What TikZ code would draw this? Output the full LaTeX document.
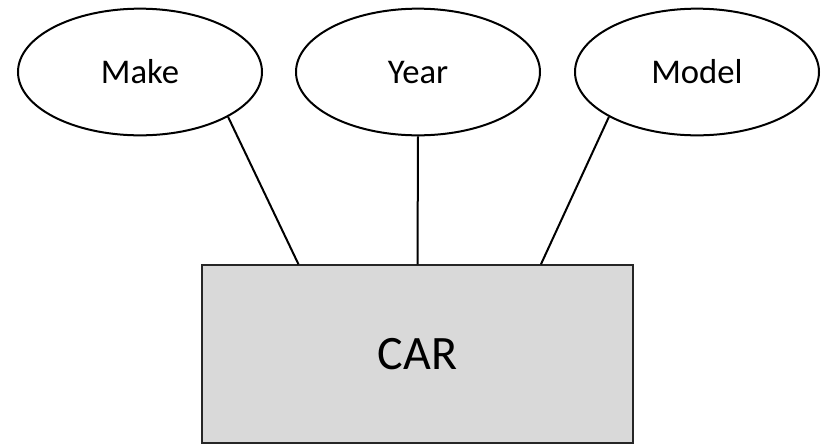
\documentclass[tikz,border=0pt]{standalone}
\usepackage{fontspec}
\setmainfont{Carlito}
\usetikzlibrary{shapes.geometric}

\begin{document}
\begin{tikzpicture}[x=0.75pt, y=-0.75pt,
    attr/.style={ellipse, draw, line width=1.5pt, minimum width=183pt, minimum height=95pt, inner sep=0pt, font=\fontsize{26}{30}\selectfont},
    entity/.style={rectangle, draw=black!85, line width=1.5pt, fill={rgb,255:red,217;green,217;blue,217}, minimum width=323pt, minimum height=133pt, inner sep=0pt, font=\fontsize{36}{42}\selectfont}]
            \useasboundingbox (0, 0) rectangle (825, 444);

            \node[attr] (make) at (140, 72) {Make};
            \node[attr] (year) at (418, 72) {Year};
            \node[attr] (model) at (697, 72) {Model};
            \node[entity] (car) at (417.5, 354) {CAR};

            %attributes
            \draw[line width=1.5pt] (make.-27) -- (car.143.3);
            \draw[line width=1.5pt] (year.south) -- (car.north);
            \draw[line width=1.5pt] (model.207) -- (car.36.7);
        \end{tikzpicture}
\end{document}
